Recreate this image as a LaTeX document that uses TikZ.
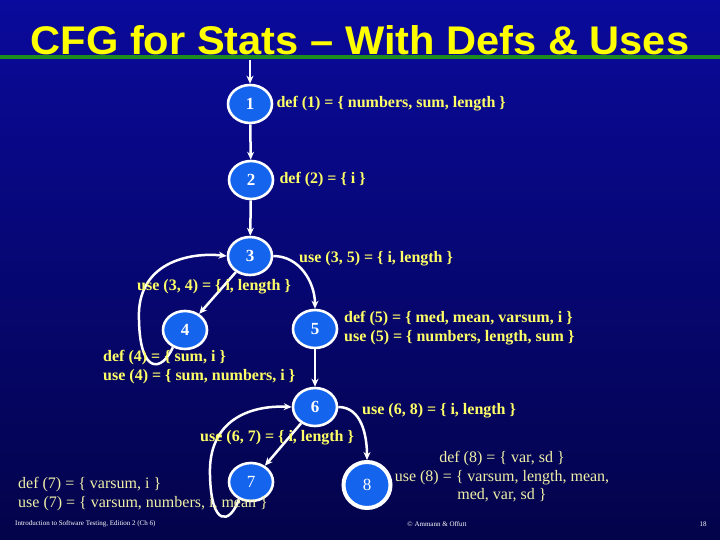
\documentclass[tikz,border=0pt]{standalone}
\usepackage{fontspec}
\setmainfont{Liberation Serif}
\newfontfamily\titlefont{Liberation Sans}
\usetikzlibrary{arrows.meta,positioning,shapes.geometric}
\definecolor{bgtop}{HTML}{0A0A9C}
\definecolor{bgbottom}{HTML}{03034A}
\definecolor{nodeblue}{HTML}{1464EE}
\definecolor{labelyellow}{HTML}{FFFF66}
\definecolor{paleyellow}{HTML}{F0F0A8}
\definecolor{titleyellow}{HTML}{FFFF00}
\definecolor{rulegreen}{HTML}{1C8C1C}

\begin{document}
\begin{tikzpicture}[x=1pt, y=-1pt,
    blk/.style={ellipse, draw=white, line width=2.6pt, fill=nodeblue, text=white,
                minimum width=44pt, minimum height=38pt, inner sep=0pt,
                font=\fontsize{17}{17}\selectfont\bfseries},
    lbl/.style={text=labelyellow, font=\fontsize{16}{19.5}\selectfont\bfseries,
                inner sep=0pt, align=left},
    plain/.style={text=paleyellow, font=\fontsize{16}{18.5}\selectfont, inner sep=0pt},
    foot/.style={text=white, font=\fontsize{7}{7}\selectfont, inner sep=0pt},
    arr/.style={-{Stealth[length=8pt,width=7pt]}, line width=2.5pt, white}
  ]
    \useasboundingbox (0,0) rectangle (720,540);
    \shade[top color=bgtop, bottom color=bgbottom] (0,0) rectangle (720,540);

    % title
    \node[font=\titlefont\fontsize{40}{40}\selectfont\bfseries, text=titleyellow, xscale=1.04] (title) at (360,40) {CFG for Stats – With Defs \& Uses};
    \draw[rulegreen, line width=4pt] (0,57) -- (720,57);

    % graph
    \node[blk] (n1) at (250,104) {1};
    \node[blk] (n2) at (251,180) {2};
    \node[blk] (n3) at (250,256) {3};
    \node[blk] (n4) at (185,330) {4};
    \node[blk] (n5) at (315,329) {5};
    \node[blk] (n6) at (315,407) {6};
    \node[blk, font=\fontsize{17}{17}\selectfont] (n7) at (251,482) {7};
    \node[blk, font=\fontsize{17}{17}\selectfont, minimum width=47pt, minimum height=46pt,
          line width=4pt] (n8) at (367,485) {8};

    \coordinate (entry) at (250,60);
    \draw[arr] (entry) -- (n1);
    \draw[arr] (n1) -- (n2);
    \draw[arr] (n2) -- (n3);
    \draw[arr] (n3) -- (n4);
    \draw[arr] (n3.east) to[out=0, in=90] (n5.north);
    \draw[arr] (n4.235) .. controls (162,372) and (140,375) .. (139,320)
                        .. controls (136,262) and (190,252) .. (n3.west);
    \draw[arr] (n5) -- (n6);
    \draw[arr] (n6) -- (n7);
    \draw[arr] (n6.east) to[out=0, in=90] (n8.north);
    \draw[arr] (n7.235) .. controls (230,525) and (211,527) .. (210,475)
                        .. controls (208,420) and (250,405) .. (n6.west);

    % defs and uses
    \node[lbl, right=3pt of n1] (d1) {def (1) = \{ numbers, sum, length \}};
    \node[lbl, right=5pt of n2] (d2) {def (2) = \{ i \}};
    \node[lbl, anchor=west] (u35) at (299,259) {use (3, 5) = \{ i, length \}};
    \node[lbl, anchor=west] (u34) at (137,287) {use (3, 4) = \{ i, length \}};
    \node[lbl, anchor=west] (d5) at (344,328) {def (5) = \{ med, mean, varsum, i \}\\use (5) = \{ numbers, length, sum \}};
    \node[lbl, anchor=west] (d4) at (103,367) {def (4) = \{ sum, i \}\\use (4) = \{ sum, numbers, i \}};
    \node[lbl, anchor=west] (u68) at (362,411) {use (6, 8) = \{ i, length \}};
    \node[lbl, anchor=west] (u67) at (200,438) {use (6, 7) = \{ i, length \}};
    \node[plain, anchor=west, align=left] (d7) at (18,494) {def (7) = \{ varsum, i \}\\use (7) = \{ varsum, numbers, i, mean \}};
    \node[plain, align=center] (d8) at (502,477) {def (8) = \{ var, sd \}\\use (8) = \{ varsum, length, mean,\\med, var, sd \}};

    % footer
    \node[foot, anchor=west] (course) at (15,524) {Introduction to Software Testing, Edition 2 (Ch 6)};
    \node[foot] (authors) at (437,524) {\textcopyright{} Ammann \& Offutt};
    \node[foot] (page) at (703,524) {18};
  \end{tikzpicture}
\end{document}
